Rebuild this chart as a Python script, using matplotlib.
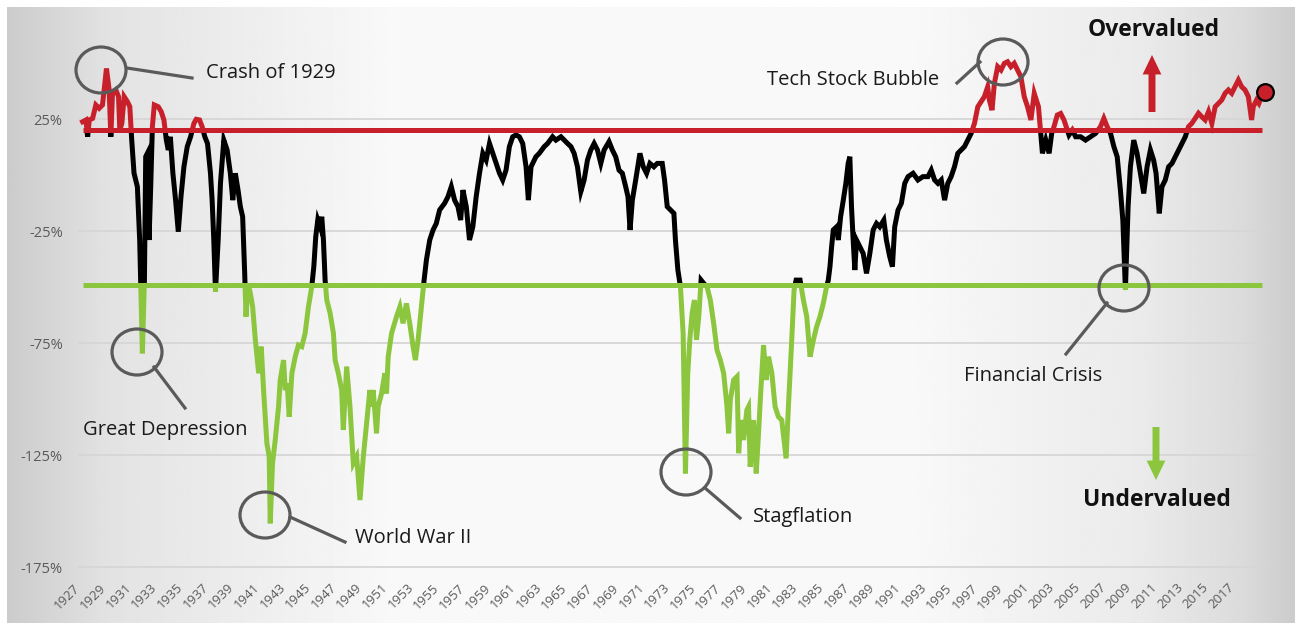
import numpy as np
import matplotlib
matplotlib.use('Agg')
import matplotlib.pyplot as plt
from matplotlib.patches import Ellipse, FancyArrowPatch, ArrowStyle, Rectangle
from matplotlib.lines import Line2D

plt.rcParams['font.family'] = ['Open Sans', 'DejaVu Sans']

# valuation gap vs. fair value, %
years = [
    1927.86, 1928.12, 1928.25, 1928.38, 1928.64, 1928.89, 1929.15, 1929.41, 1929.72, 1929.93,
    1930.06, 1930.19, 1930.45, 1930.66, 1930.76, 1930.92, 1931.10, 1931.36, 1931.54, 1931.69,
    1931.87, 1932.13, 1932.31, 1932.52, 1932.68, 1932.78, 1932.91, 1933.04, 1933.17, 1933.30,
    1933.45, 1933.76, 1933.99, 1934.20, 1934.39, 1934.54, 1934.70, 1934.90, 1935.11, 1935.32,
    1935.53, 1935.76, 1936.02, 1936.28, 1936.54, 1936.72, 1936.98, 1937.18, 1937.39, 1937.60,
    1937.83, 1937.96, 1938.09, 1938.22, 1938.43, 1938.61, 1938.87, 1939.13, 1939.38, 1939.57,
    1939.77, 1939.98, 1940.16, 1940.34, 1940.50, 1940.60, 1940.76, 1940.94, 1941.12, 1941.33,
    1941.59, 1941.79, 1941.97, 1942.23, 1942.41, 1942.49, 1942.67, 1942.88, 1943.14, 1943.27,
    1943.53, 1943.66, 1943.81, 1943.97, 1944.18, 1944.44, 1944.69, 1944.95, 1945.21, 1945.47,
    1945.73, 1945.89, 1946.04, 1946.20,
    1946.38, 1946.51, 1946.64, 1946.77, 1946.90, 1947.16, 1947.42, 1947.55, 1947.80, 1948.06,
    1948.19, 1948.45, 1948.71, 1948.97, 1949.23, 1949.49, 1949.75, 1950.01, 1950.26, 1950.39,
    1950.52, 1950.78, 1950.91, 1951.17, 1951.43, 1951.56, 1951.69, 1951.95, 1952.34, 1952.60,
    1952.85, 1953.11, 1953.37, 1953.63, 1953.81, 1954.02, 1954.28, 1954.49, 1954.67, 1954.93,
    1955.19, 1955.44, 1955.70, 1956.09, 1956.35, 1956.61, 1956.87, 1957.13, 1957.34, 1957.52,
    1957.78, 1958.03, 1958.29, 1958.55, 1958.81, 1959.07, 1959.33, 1959.59, 1959.85, 1960.11,
    1960.37, 1960.62, 1960.88, 1961.14, 1961.40, 1961.66, 1961.92, 1962.18, 1962.44, 1962.62,
    1962.83, 1963.21, 1963.47, 1963.86, 1964.12, 1964.51, 1964.77,
    1965.16, 1965.42, 1965.68, 1965.94, 1966.19, 1966.45, 1966.71, 1966.97, 1967.23, 1967.49,
    1967.75, 1968.01, 1968.27, 1968.53, 1968.91, 1969.17, 1969.43, 1969.69, 1969.95, 1970.21,
    1970.39, 1970.55, 1970.73, 1970.99, 1971.32, 1971.58, 1971.84, 1972.10, 1972.41, 1972.67,
    1973.06, 1973.24, 1973.45, 1973.71, 1973.97, 1974.09, 1974.28, 1974.48, 1974.69, 1974.87,
    1975.05, 1975.21, 1975.39, 1975.57, 1975.73, 1975.91, 1976.09, 1976.30, 1976.55, 1976.81,
    1977.07, 1977.33, 1977.59, 1977.85, 1978.11, 1978.24, 1978.37, 1978.63, 1978.89, 1979.02,
    1979.20, 1979.40, 1979.66, 1979.79, 1979.92, 1980.18, 1980.39, 1980.57, 1980.75, 1980.96,
    1981.17, 1981.35, 1981.61, 1981.86, 1982.12, 1982.38, 1982.72, 1982.90, 1983.16, 1983.34,
    1983.50,
    1983.81, 1984.07, 1984.33, 1984.59, 1984.85, 1985.10, 1985.36, 1985.62, 1985.88, 1986.01,
    1986.14, 1986.27, 1986.40, 1986.66, 1986.79, 1986.97, 1987.18, 1987.38, 1987.56, 1987.69,
    1987.82, 1987.95, 1988.08, 1988.21, 1988.47, 1988.73, 1988.99, 1989.25, 1989.51, 1989.77,
    1990.02, 1990.34, 1990.54, 1990.80, 1991.01, 1991.19, 1991.45, 1991.71, 1991.97, 1992.23,
    1992.62, 1993.00, 1993.39, 1993.78, 1994.04, 1994.30, 1994.56, 1994.82, 1995.08, 1995.33,
    1995.59, 1995.85, 1996.11, 1996.37, 1996.63, 1996.89, 1997.15, 1997.41, 1997.67, 1997.92,
    1998.18, 1998.44, 1998.57, 1998.78, 1998.96, 1999.22, 1999.48, 1999.74, 1999.99, 2000.25,
    2000.51, 2000.77, 2001.03, 2001.29, 2001.55, 2001.81, 2002.07,
    2002.40, 2002.58, 2002.71, 2002.97, 2003.23, 2003.43, 2003.61, 2003.87, 2004.13, 2004.39,
    2004.65, 2004.78, 2005.04, 2005.30, 2005.69, 2006.07, 2006.46, 2006.85, 2007.24, 2007.50,
    2007.76, 2008.02, 2008.28, 2008.54, 2008.79, 2008.98, 2009.18, 2009.39, 2009.57, 2009.83,
    2010.09, 2010.35, 2010.61, 2010.87, 2011.13, 2011.38, 2011.57, 2011.82, 2012.03, 2012.29,
    2012.55, 2012.81, 2013.07, 2013.33, 2013.59, 2013.85, 2014.10, 2014.36, 2014.62, 2014.88,
    2015.14, 2015.40, 2015.66, 2015.92, 2016.18, 2016.43, 2016.69, 2016.95, 2017.21, 2017.47,
    2017.73, 2017.99, 2018.25, 2018.51, 2018.77, 2019.02, 2019.15, 2019.41, 2019.59, 2019.80,
]
values = [
    23.8, 24.6, 17.1, 24.6, 25.3, 31.3, 29.8, 31.3, 47.6, 38.0,
    17.1, 36.5, 38.0, 35.0, 20.1, 23.1, 35.0, 32.7, 30.5, 15.6,
    0.8, -5.2, -29.0, -79.6, -46.9, 8.2, 9.7, -29.0, -5.2, 21.6,
    31.3, 30.5, 28.3, 24.6, 15.6, 11.2, 17.1, 0.8, -11.2, -25.3,
    -9.7, 3.7, 12.7, 17.1, 23.1, 24.9, 24.6, 21.6, 17.1, 14.1,
    0.8, -11.2, -29.0, -52.1, -29.0, -3.7, 15.6, 11.2, 0.8, -11.2,
    0.8, -6.7, -14.1, -18.6, -43.9, -63.2, -48.4, -52.8, -58.8, -73.6,
    -88.5, -76.6, -96.0, -119.8, -125.7, -155.5, -128.7, -118.3, -103.4, -91.5,
    -82.6, -96.0, -93.0, -107.9, -88.5, -81.1, -75.9, -76.6, -70.7, -58.8,
    -49.8, -40.9, -27.5, -20.1,
    -23.1, -18.6, -29.0, -46.9, -55.8, -61.7, -70.7, -82.6, -88.5, -96.0,
    -113.8, -85.5, -103.4, -128.7, -125.7, -145.1, -125.7, -110.8, -96.0, -103.4,
    -96.0, -115.3, -103.4, -97.5, -88.5, -97.5, -81.1, -70.7, -63.2, -58.8,
    -66.2, -57.3, -66.2, -76.6, -82.6, -73.6, -58.8, -46.9, -37.9, -29.0,
    -24.5, -21.6, -15.6, -12.6, -9.7, -5.2, -11.2, -14.1, -20.1, -6.7,
    -14.1, -29.0, -23.1, -9.7, 0.8, 9.7, 6.7, 14.1, 9.7, 5.2,
    0.8, -2.2, 2.2, 12.7, 17.1, 17.9, 17.1, 14.1, 3.7, -11.2,
    3.7, 8.2, 9.7, 12.7, 14.1, 17.1, 15.6,
    17.1, 15.6, 14.1, 12.7, 9.7, 3.7, -7.4, -2.2, 6.7, 11.2,
    14.1, 11.2, 5.2, 11.2, 14.9, 11.2, 8.2, 2.2, 0.8, -5.2,
    -9.7, -24.5, -11.2, -2.2, 9.7, 3.7, 0.8, 5.2, 3.7, 5.2,
    5.2, -2.2, -14.1, -15.6, -17.1, -29.0, -42.4, -49.8, -70.7, -133.2,
    -88.5, -73.6, -61.7, -55.8, -73.6, -63.2, -46.9, -48.4, -49.8, -55.8,
    -66.2, -78.1, -82.6, -88.5, -103.4, -115.3, -100.4, -91.5, -90.0, -124.2,
    -109.4, -118.3, -104.9, -103.4, -130.2, -109.4, -133.2, -115.3, -96.0, -75.9,
    -91.5, -81.1, -88.5, -103.4, -107.9, -109.4, -126.5, -103.4, -73.6, -51.3,
    -46.9,
    -46.9, -55.8, -63.2, -81.1, -73.6, -67.7, -63.2, -57.3, -49.8, -46.9,
    -40.9, -32.0, -24.5, -23.1, -29.0, -18.6, -11.2, -3.7, 5.2, 8.2,
    -14.1, -29.0, -42.4, -29.0, -32.0, -35.0, -43.9, -35.0, -24.5, -21.6,
    -23.1, -20.1, -29.0, -36.4, -40.9, -23.1, -15.6, -12.6, -3.7, -0.7,
    0.8, -2.2, -0.7, -0.7, 2.2, -2.2, -3.7, -2.2, -11.2, -3.7,
    -0.7, 3.7, 9.7, 11.2, 12.7, 15.6, 18.6, 23.1, 30.5, 32.7,
    35.0, 39.4, 33.5, 29.0, 40.9, 48.4, 46.9, 49.9, 50.6, 48.4,
    49.9, 46.9, 43.9, 35.0, 30.5, 24.6, 36.5,
    30.5, 18.6, 9.7, 15.6, 9.7, 18.6, 21.6, 26.8, 27.5, 24.6,
    20.1, 17.9, 20.1, 17.1, 17.1, 15.6, 17.1, 18.6, 21.6, 25.3,
    21.6, 18.6, 12.7, 8.2, -6.7, -20.1, -51.3, -14.1, 3.7, 15.6,
    9.7, 0.8, -8.2, 3.7, 11.2, 6.7, 0.8, -17.1, -5.2, -2.2,
    3.7, 5.2, 8.2, 11.2, 14.1, 17.1, 21.6, 23.1, 25.3, 27.6,
    26.0, 24.6, 28.3, 23.1, 30.5, 32.0, 33.5, 36.5, 38.0, 36.5,
    39.4, 42.4, 39.4, 38.0, 35.0, 24.6, 30.5, 33.5, 32.0, 35.0,
]

upper_band = 20      # overvalued threshold
lower_band = -49     # undervalued threshold
latest_year = 2020.07
latest_value = 37

y_ticks = [25, -25, -75, -125, -175]
x_label_years = list(range(1927, 2018, 2))

events = ['Crash of 1929', 'Tech Stock Bubble', 'Great Depression',
          'World War II', 'Stagflation', 'Financial Crisis']

RED = '#c8202b'
GREEN = '#8cc63f'
GREY = '#5a5a5a'
LW = 3.6

W, H = 1295, 623
fig = plt.figure(figsize=(W / 100, H / 100), dpi=100)
fig.patch.set_facecolor('white')

# grey-white-grey backdrop
bg = fig.add_axes([7 / W, 0, 1 - 7 / W, 1 - 7 / H])
xs = np.linspace(0, 1, 500)
shade = np.interp(xs, [0, 0.08, 0.3, 0.7, 0.88, 0.96, 1.0],
                  [0.80, 0.89, 0.975, 0.975, 0.92, 0.86, 0.80])
bg.imshow(np.tile(shade, (10, 1)), cmap='gray', vmin=0, vmax=1,
          aspect='auto', extent=[0, 1, 0, 1])
bg.axis('off')

ax = fig.add_axes([78 / W, 1 - 580 / H, (1268 - 78) / W, (580 - 10) / H])
ax.set_facecolor('none')
ax.set_xlim(1927.84, 2020.30)
ax.set_ylim(-180.8, 73.7)

t = np.array(years)
v = np.array(values)

# same series drawn three times, each clipped to its own band
bands = [(lower_band, upper_band, 'black', 3),
         (-1000, lower_band, GREEN, 4),
         (upper_band, 1000, RED, 5)]
for lo, hi, col, z in bands:
    ln, = ax.plot(t, v, color=col, lw=LW, zorder=z, solid_joinstyle='miter')
    ln.set_clip_path(Rectangle((t[0] - 5, lo), t[-1] - t[0] + 10, hi - lo,
                               transform=ax.transData))

ax.hlines(lower_band, t[0], t[-1], color=GREEN, lw=LW, zorder=6)
ax.hlines(upper_band, t[0], t[-1], color=RED, lw=LW, zorder=7)

ax.plot(latest_year, latest_value, 'o', ms=12, mfc=RED, mec='black', mew=1.6,
        clip_on=False, zorder=8)

ax.set_yticks(y_ticks)
ax.set_yticklabels([f'{y}%' for y in y_ticks])
ax.yaxis.grid(True, color='#d6d6d6', lw=1.3)
ax.set_axisbelow(True)
ax.set_xticks([y + 0.5 for y in x_label_years])
ax.set_xticklabels([str(y) for y in x_label_years], rotation=45, ha='right',
                   va='center', rotation_mode='anchor')
ax.tick_params(axis='y', length=0, pad=11, labelsize=10.5, labelcolor=GREY)
ax.tick_params(axis='x', length=0, pad=4, labelsize=9.5, labelcolor=GREY)
for s in ax.spines.values():
    s.set_visible(False)


def fx(x):
    return x / W


def fy(y):
    return 1 - y / H


# callout circles, pointer lines and labels (pixel layout, top-left origin)
circles = [(101, 70), (1003, 62), (137, 352), (265, 515), (686, 472), (1124, 288)]
pointers = [((127, 68), (192, 78)), ((980, 62), (957, 83)), ((154, 367), (185, 408)),
            ((290, 517), (345, 542)), ((705, 488), (740, 518)), ((1107, 303), (1066, 354))]
label_pos = [(206, 73), (767, 80), (83, 430), (355, 538), (753, 517), (964, 376)]

for (cx, cy), ((x1, y1), (x2, y2)), (lx, ly), name in zip(circles, pointers, label_pos, events):
    fig.add_artist(Ellipse((fx(cx), fy(cy)), 50 / W, 46 / H, transform=fig.transFigure,
                           fill=False, ec=GREY, lw=2.3, zorder=10))
    fig.add_artist(Line2D([fx(x1), fx(x2)], [fy(y1), fy(y2)], transform=fig.transFigure,
                          color=GREY, lw=2.3, zorder=10))
    fig.text(fx(lx), fy(ly), name, ha='left', va='center', fontsize=14.5, color='#1a1a1a')

fig.text(fx(1154), fy(30), 'Overvalued', ha='center', va='center', fontsize=16.5,
         fontweight='bold', color='#111111')
fig.text(fx(1157), fy(500), 'Undervalued', ha='center', va='center', fontsize=16.5,
         fontweight='bold', color='#111111')

arrow_style = ArrowStyle('Simple', head_length=14, head_width=13.5, tail_width=5)
fig.add_artist(FancyArrowPatch((fx(1152), fy(112)), (fx(1152), fy(55)),
                               transform=fig.transFigure, arrowstyle=arrow_style,
                               color=RED, lw=0, shrinkA=0, shrinkB=0))
fig.add_artist(FancyArrowPatch((fx(1156), fy(427)), (fx(1156), fy(480)),
                               transform=fig.transFigure, arrowstyle=arrow_style,
                               color=GREEN, lw=0, shrinkA=0, shrinkB=0))

fig.savefig('out.png', dpi=100)
plt.close(fig)
